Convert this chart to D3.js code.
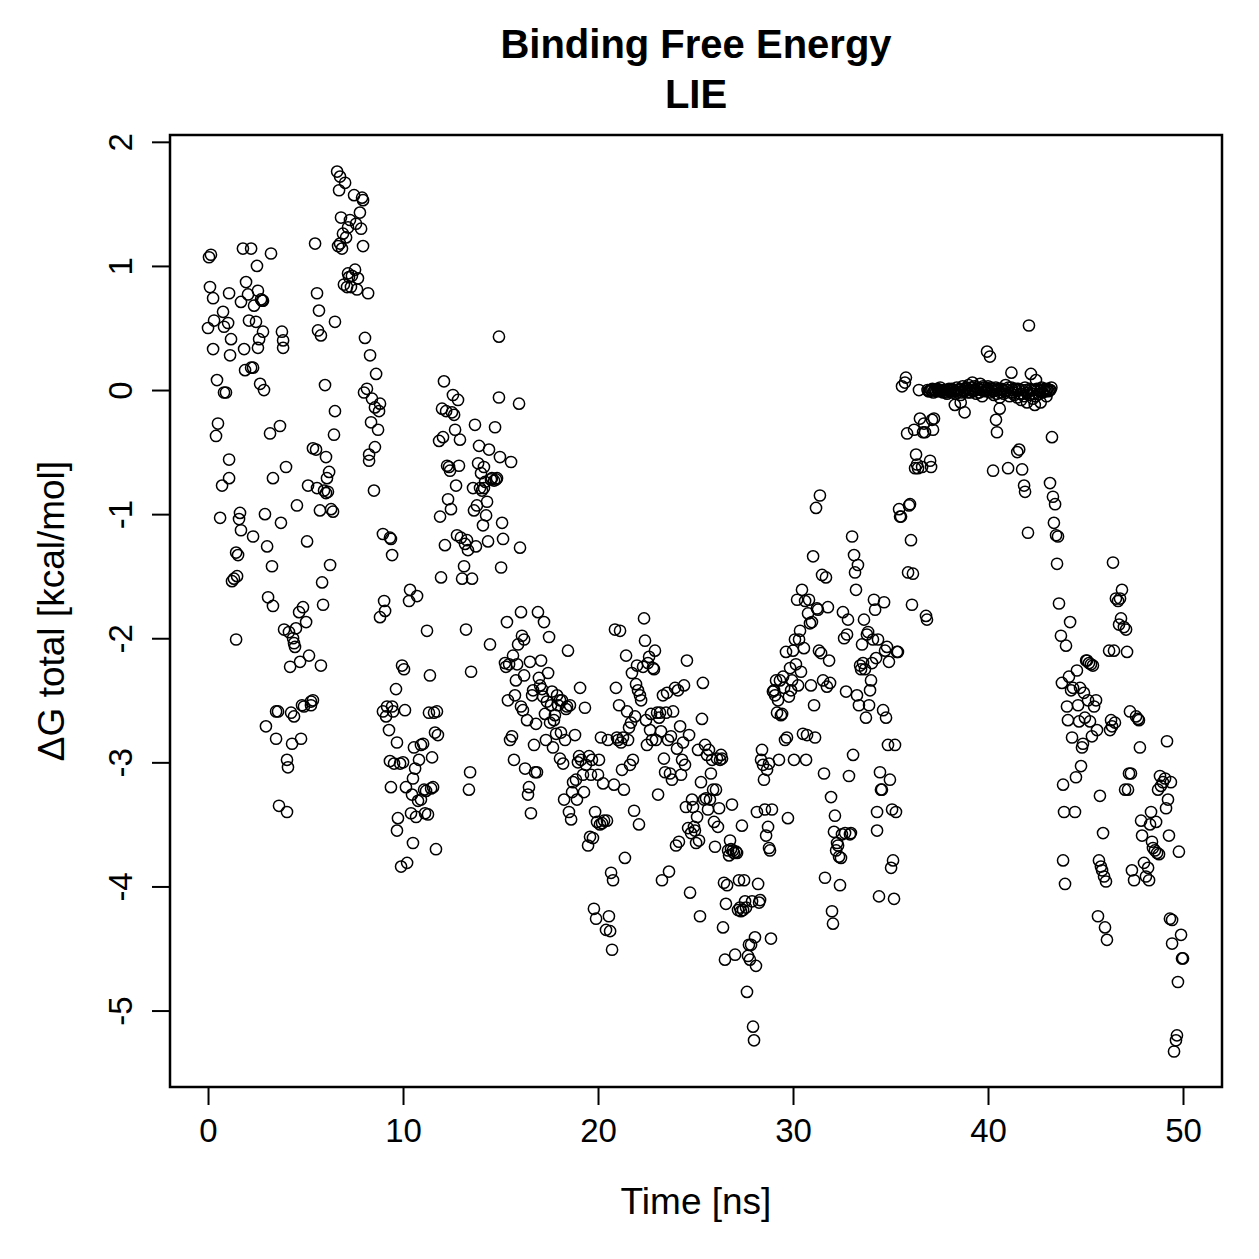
<!DOCTYPE html>
<html>
<head>
<meta charset="utf-8">
<title>Binding Free Energy - LIE</title>
<script src="https://cdn.jsdelivr.net/npm/d3@7"></script>
<style>
    body { margin: 0; background: #ffffff; }
    svg text { font-family: "Liberation Sans", Arial, Helvetica, sans-serif; fill: #000; }
</style>
</head>
<body>
<svg id="my_svg_element" width="1259" height="1259"></svg>
<script>
// ----------------------------  DATA  ----------------------------
// [time (ns), dG total (kcal/mol)]

const block_0_5 = [
    [0.05,1.07],[0.15,1.09],[0.1,0.83],[0.0,0.5],[0.26,0.74],[0.26,0.33],[0.31,0.56],[0.41,-0.37],[0.51,-0.27],[0.46,0.08],
    [0.62,-1.03],[0.72,-0.77],[0.77,0.63],[0.82,0.51],[0.82,-0.02],[0.92,-0.02],[1.03,0.54],[1.08,0.78],[1.08,-0.56],[1.08,-0.71],
    [1.18,0.41],[1.13,0.28],[1.23,-1.54],[1.33,-1.52],[1.44,-1.31],[1.54,-1.33],[1.44,-2.01],[1.49,-1.5],[1.64,-0.99],[1.59,-1.04],
    [1.69,-1.13],[1.69,0.71],[1.85,0.33],[1.9,0.16],[1.79,1.14],[2.21,1.14],[1.95,0.87],[2.05,0.77],[2.1,0.56],[2.21,0.18],
    [2.31,0.18],[2.31,-1.18],[2.36,0.68],[2.51,1.0],[2.46,0.55],[2.56,0.8],[2.62,0.41],[2.56,0.34],[2.67,0.05],[2.72,0.73],
    [2.77,0.72],[2.82,0.72],[2.87,0.0],[2.82,0.47],[2.92,-1.0],[3.03,-1.26],[3.08,-1.67],[2.97,-2.71],[3.18,-0.35],[3.23,1.1],
    [3.33,-0.71],[3.28,-1.42],[3.33,-1.74],[3.49,-2.81],[3.49,-2.59],[3.59,-2.59],[3.64,-3.35],[3.69,-0.29],[3.79,0.47],[3.85,0.4],
    [3.85,0.34],[3.74,-1.07],[3.9,-1.93],[4.0,-0.62],[4.05,-3.4],[4.05,-2.98],[4.1,-3.04],[4.15,-1.95],[4.21,-2.23],[4.26,-2.6],
    [4.31,-2.85],[4.41,-2.63],[4.41,-2.04],[4.36,-2.0],[4.46,-2.07],[4.51,-1.92],[4.56,-0.93],[4.67,-1.79],[4.72,-2.19],[4.77,-2.81],
    [4.82,-2.54],[4.87,-1.75],[4.92,-2.55]
];

const block_5_10 = [
    [5.03,-1.87],[5.08,-1.22],[5.13,-0.77],[5.18,-2.14],[5.28,-2.51],[5.38,-2.5],[5.28,-2.54],[5.38,-0.47],[5.49,1.18],[5.54,-0.48],
    [5.59,0.78],[5.59,-0.79],[5.64,0.48],[5.69,0.64],[5.74,-0.97],[5.79,-2.22],[5.79,0.44],[5.85,-1.55],[5.9,-1.73],[5.95,-0.81],
    [6.0,0.04],[6.05,-0.54],[6.05,-0.83],[6.1,-0.71],[6.15,-0.82],[6.21,-0.66],[6.26,-1.41],[6.31,-0.96],[6.41,-0.98],[6.46,-0.36],
    [6.51,-0.17],[6.51,0.55],[6.62,1.76],[6.67,1.16],[6.77,1.18],[6.72,1.61],[6.77,1.72],[6.82,1.39],[6.87,1.14],[6.92,1.26],
    [6.97,0.85],[7.03,1.67],[7.08,1.23],[7.13,0.83],[7.18,1.31],[7.18,0.94],[7.23,0.91],[7.28,1.37],[7.33,0.83],[7.38,0.92],
    [7.49,1.57],[7.54,0.97],[7.59,1.34],[7.64,0.81],[7.69,0.9],[7.79,1.43],[7.85,1.3],[7.9,1.55],[7.95,1.53],[7.95,1.16],
    [8.0,-0.02],[8.05,0.42],[8.15,0.01],[8.21,0.78],[8.26,-0.57],[8.26,-0.52],[8.31,0.28],[8.36,-0.26],[8.41,-0.07],[8.51,-0.81],
    [8.56,-0.14],[8.56,-0.46],[8.62,0.13],[8.72,-0.32],[8.77,-0.17],[8.82,-0.11],[8.82,-1.83],[8.97,-1.16],[9.03,-1.7],[9.08,-1.78],
    [9.13,-2.63],[8.97,-2.59],[9.18,-2.55],[9.28,-2.74],[9.33,-1.19],[9.38,-1.2],[9.33,-2.99],[9.44,-1.33],[9.38,-3.2],[9.44,-2.55],
    [9.49,-2.59],[9.54,-3.01],[9.64,-2.41],[9.69,-2.84],[9.69,-3.55],[9.74,-3.45],[9.85,-3.01],[9.9,-3.84],[9.95,-2.22],[10.0,-3.0],
    [10.05,-2.25]
];

const block_10_15 = [
    [10.1,-2.58],[10.15,-3.2],[10.21,-3.81],[10.31,-1.7],[10.36,-1.61],[10.41,-3.41],[10.46,-3.26],[10.51,-3.13],[10.51,-3.65],[10.56,-2.88],
    [10.62,-3.05],[10.67,-3.44],[10.72,-1.66],[10.77,-3.31],[10.82,-2.98],[10.92,-2.86],[10.92,-3.3],[11.03,-2.85],[11.08,-3.22],[11.13,-3.41],
    [11.18,-3.23],[11.23,-1.94],[11.28,-3.42],[11.33,-2.6],[11.38,-2.3],[11.44,-3.21],[11.49,-2.96],[11.54,-3.2],[11.59,-2.6],[11.64,-2.76],
    [11.69,-3.7],[11.74,-2.59],[11.79,-2.78],[11.85,-0.41],[11.9,-1.02],[11.95,-1.51],[12.0,-0.15],[12.05,-0.38],[12.1,0.07],[12.15,-1.25],
    [12.21,-0.17],[12.26,-0.61],[12.31,-0.88],[12.36,-0.62],[12.41,-0.65],[12.46,-0.96],[12.51,-0.18],[12.62,-0.2],[12.56,-0.04],[12.67,-0.32],
    [12.72,-0.77],[12.77,-1.17],[12.82,-0.08],[12.87,-0.61],[12.92,-0.4],[12.97,-1.19],[13.03,-1.52],[13.13,-1.42],[13.23,-1.93],[13.18,-1.24],
    [13.28,-1.21],[13.33,-1.29],[13.38,-3.22],[13.44,-3.08],[13.49,-2.27],[13.54,-1.52],[13.59,-0.79],[13.64,-0.97],[13.69,-0.28],[13.74,-1.26],
    [13.79,-0.93],[13.85,-0.59],[13.9,-0.45],[13.95,-0.79],[14.0,-0.67],[14.05,-0.81],[14.15,-0.79],[14.21,-0.74],[14.1,-1.09],[14.15,-0.62],
    [14.26,-1.01],[14.31,-0.9],[14.36,-1.22],[14.41,-0.48],[14.46,-2.05],[14.51,-0.72],[14.56,-0.71],[14.67,-0.73],[14.77,-0.72],[14.72,-0.3],
    [14.82,-0.71]
];

const block_15_20 = [
    [14.92,0.43],[14.92,-0.06],[14.97,-0.54],[15.03,-1.43],[15.08,-1.07],[15.13,-1.2],[15.23,-2.2],[15.28,-2.23],[15.44,-2.21],[15.33,-1.87],
    [15.38,-2.5],[15.49,-2.82],[15.54,-0.58],[15.59,-2.79],[15.64,-2.14],[15.69,-2.98],[15.74,-2.46],[15.79,-2.34],[15.85,-2.21],[15.9,-2.05],
    [15.95,-0.11],[16.0,-1.27],[16.05,-1.79],[16.05,-2.55],[16.1,-1.98],[16.21,-2.01],[16.15,-2.58],[16.21,-2.3],[16.26,-3.05],[16.36,-2.66],
    [16.41,-3.26],[16.46,-3.2],[16.56,-3.41],[16.51,-2.19],[16.62,-2.46],[16.67,-2.42],[16.72,-2.86],[16.77,-3.08],[16.82,-2.69],[16.87,-3.08],
    [16.92,-1.79],[16.97,-2.32],[17.03,-2.38],[17.08,-2.18],[17.13,-2.41],[17.18,-2.47],[17.23,-1.87],[17.28,-2.61],[17.33,-2.82],[17.38,-2.51],
    [17.44,-2.28],[17.49,-1.99],[17.54,-2.68],[17.59,-2.54],[17.64,-2.43],[17.69,-2.88],[17.74,-2.66],[17.79,-2.62],[17.85,-2.77],[17.9,-2.46],
    [17.95,-2.54],[18.05,-2.5],[18.05,-2.97],[18.1,-2.76],[18.15,-2.5],[18.21,-3.01],[18.26,-3.3],[18.31,-2.82],[18.36,-2.57],[18.41,-2.55],
    [18.46,-2.1],[18.51,-3.4],[18.62,-3.46],[18.56,-2.54],[18.67,-3.24],[18.72,-3.16],[18.82,-2.78],[18.87,-3.14],[18.92,-3.3],[18.97,-3.0],
    [19.03,-2.95],[19.08,-2.4],[19.13,-2.98],[19.23,-3.1],[19.28,-3.24],[19.33,-2.56],[19.38,-3.02],[19.49,-3.67],[19.54,-2.95],[19.59,-3.6],
    [19.64,-3.1],[19.69,-2.98],[19.74,-3.61],[19.79,-4.18],[19.85,-3.4],[19.95,-3.48],[19.9,-4.26],[20.0,-3.1]
];

const block_20_25 = [
    [20.05,-2.98],[20.1,-3.5],[20.15,-2.8],[20.21,-3.49],[20.26,-3.17],[20.31,-3.47],[20.41,-4.35],[20.46,-3.47],[20.51,-2.82],[20.56,-4.24],
    [20.62,-4.36],[20.67,-3.89],[20.77,-3.95],[20.72,-4.51],[20.82,-3.18],[20.87,-1.93],[20.92,-2.4],[20.97,-2.8],[21.03,-2.82],[21.08,-2.54],
    [21.13,-1.94],[21.18,-2.84],[21.28,-2.8],[21.23,-3.06],[21.33,-3.22],[21.38,-3.77],[21.44,-2.14],[21.49,-2.59],[21.54,-2.82],[21.64,-3.02],
    [21.59,-2.72],[21.69,-2.68],[21.74,-2.28],[21.79,-2.98],[21.85,-3.39],[21.9,-2.63],[22.0,-2.22],[21.95,-2.37],[22.05,-2.42],[22.1,-3.5],
    [22.15,-2.46],[22.21,-2.5],[22.31,-2.23],[22.36,-1.84],[22.41,-2.02],[22.46,-2.66],[22.51,-2.86],[22.56,-2.2],[22.62,-2.15],[22.67,-2.74],
    [22.77,-2.82],[22.72,-2.61],[22.82,-2.24],[22.87,-2.25],[22.92,-2.1],[22.97,-2.82],[23.03,-2.6],[23.13,-2.64],[23.08,-3.26],[23.18,-2.6],
    [23.23,-2.75],[23.28,-3.95],[23.33,-2.46],[23.38,-2.97],[23.44,-3.08],[23.49,-2.6],[23.54,-2.44],[23.59,-2.82],[23.64,-3.88],[23.69,-3.09],
    [23.74,-2.79],[23.79,-3.14],[23.85,-2.59],[23.95,-2.4],[24.0,-3.67],[24.05,-2.89],[24.1,-2.42],[24.15,-3.64],[24.21,-2.71],[24.26,-3.1],
    [24.31,-2.98],[24.36,-2.84],[24.41,-2.38],[24.46,-3.02],[24.51,-3.36],[24.56,-2.18],[24.62,-3.53],[24.67,-2.78],[24.72,-4.05],[24.77,-3.57],
    [24.82,-3.3],[24.87,-3.36],[24.92,-3.52]
];

const block_25_30 = [
    [24.97,-3.55],[25.03,-3.65],[25.08,-3.44],[25.13,-2.9],[25.18,-3.63],[25.23,-4.24],[25.28,-3.16],[25.33,-2.65],[25.38,-2.36],[25.44,-3.3],
    [25.54,-3.29],[25.49,-2.86],[25.59,-2.94],[25.64,-3.38],[25.69,-2.9],[25.74,-3.3],[25.79,-3.09],[25.85,-2.98],[25.9,-3.22],[25.95,-3.48],
    [26.0,-3.68],[26.05,-3.22],[26.1,-2.97],[26.15,-3.52],[26.21,-3.37],[26.26,-2.98],[26.31,-2.94],[26.36,-2.97],[26.41,-4.33],[26.46,-3.97],
    [26.51,-4.59],[26.56,-4.14],[26.62,-3.99],[26.67,-3.71],[26.72,-3.75],[26.77,-3.63],[26.82,-3.7],[26.87,-3.34],[26.92,-3.71],[26.97,-3.73],
    [27.03,-4.55],[27.08,-3.72],[27.13,-3.73],[27.18,-4.19],[27.23,-3.95],[27.28,-4.17],[27.33,-4.2],[27.44,-4.19],[27.38,-3.51],[27.49,-3.95],
    [27.54,-4.12],[27.59,-4.17],[27.64,-4.85],[27.69,-4.56],[27.74,-4.47],[27.85,-4.47],[27.79,-4.59],[27.9,-4.12],[27.95,-5.13],[28.0,-5.24],
    [28.05,-4.41],[28.1,-4.64],[28.15,-3.4],[28.21,-3.98],[28.26,-4.13],[28.31,-4.11],[28.36,-2.98],[28.41,-2.9],[28.46,-3.02],[28.51,-3.14],
    [28.56,-3.38],[28.62,-3.59],[28.67,-3.06],[28.77,-3.01],[28.72,-3.52],[28.77,-3.69],[28.82,-3.71],[28.87,-4.42],[28.92,-3.38],[28.97,-2.43],
    [29.03,-2.42],[29.08,-2.46],[29.13,-2.34],[29.18,-2.6],[29.23,-2.5],[29.28,-2.98],[29.33,-2.34],[29.38,-2.62],[29.44,-2.61],[29.49,-2.31],
    [29.54,-2.4],[29.59,-2.82],[29.64,-2.11],[29.69,-2.8],[29.74,-3.45],[29.79,-2.47],[29.85,-2.24]
];

const block_30_35 = [
    [29.9,-2.42],[29.95,-2.34],[30.0,-2.1],[30.05,-2.98],[30.1,-2.01],[30.15,-2.21],[30.21,-1.69],[30.26,-2.38],[30.31,-2.01],[30.36,-1.94],
    [30.41,-2.27],[30.46,-1.61],[30.51,-2.77],[30.56,-2.08],[30.62,-1.7],[30.67,-2.98],[30.72,-2.78],[30.77,-1.8],[30.82,-1.69],[30.87,-1.88],
    [30.92,-2.38],[30.97,-1.87],[31.03,-1.34],[31.08,-2.54],[31.13,-2.8],[31.18,-0.95],[31.23,-1.76],[31.28,-1.77],[31.33,-2.1],[31.44,-2.12],
    [31.38,-0.85],[31.49,-1.49],[31.54,-2.34],[31.59,-3.09],[31.64,-3.93],[31.69,-1.51],[31.74,-2.39],[31.79,-1.75],[31.85,-2.18],[31.9,-2.36],
    [31.95,-3.28],[32.0,-4.2],[32.05,-4.3],[32.1,-3.56],[32.15,-3.43],[32.21,-3.71],[32.26,-3.65],[32.31,-3.67],[32.36,-3.76],[32.41,-3.99],
    [32.46,-3.77],[32.51,-3.58],[32.56,-1.79],[32.62,-2.0],[32.67,-3.57],[32.72,-2.43],[32.77,-1.97],[32.82,-1.85],[32.87,-3.11],[32.92,-3.58],
    [32.97,-3.57],[33.03,-1.18],[33.08,-2.94],[33.13,-1.33],[33.18,-1.47],[33.23,-1.61],[33.33,-1.41],[33.28,-2.46],[33.38,-2.54],[33.44,-2.22],
    [33.49,-2.25],[33.59,-2.2],[33.69,-2.25],[33.54,-2.05],[33.64,-1.85],[33.74,-2.64],[33.79,-1.97],[33.85,-1.95],[33.9,-2.54],[33.95,-2.42],
    [34.0,-2.34],[34.05,-2.2],[34.1,-2.01],[34.15,-1.69],[34.21,-1.77],[34.26,-2.16],[34.31,-3.55],[34.31,-3.4],[34.36,-2.01],[34.41,-4.08],
    [34.46,-3.08],[34.51,-3.22],[34.56,-3.22],[34.62,-2.58],[34.67,-1.71],[34.72,-2.1],[34.77,-2.64],[34.82,-2.07],[34.87,-2.86],[34.92,-2.19]
];

const block_35_37 = [
    [34.97,-3.14],[35.03,-3.85],[35.08,-3.38],[35.13,-3.79],[35.18,-4.1],[35.23,-2.86],[35.28,-3.4],[35.33,-2.11],[35.38,-2.11],[35.44,-0.96],
    [35.49,-1.02],[35.54,-1.02],[35.59,0.03],[35.74,0.06],[35.79,0.1],[35.85,-0.35],[35.9,-1.47],[35.95,-0.93],[36.0,-0.92],[36.05,-1.21],
    [36.1,-1.73],[36.15,-1.48],[36.21,-0.32],[36.26,-0.63],[36.31,-0.52],[36.36,-0.6],[36.41,-0.63],[36.46,0.0],[36.51,-0.23],[36.62,-0.62],
    [36.67,-0.34],[36.72,-0.27],[36.77,-0.34],[36.82,-1.82],[36.87,-1.85],[37.03,-0.57],[37.08,-0.62],[37.13,-0.24],[37.18,-0.32],[37.23,-0.23]
];

// the flat stretch near zero, 37 - 43 ns
const block_plateau = [
    [36.9,0.0],[37.0,-0.01],[37.1,0.0],[37.2,-0.02],[37.3,0.0],[37.4,0.01],[37.5,-0.01],[37.6,0.0],[37.7,-0.02],[37.8,0.0],
    [37.9,-0.03],[38.0,0.01],[38.1,0.0],[38.2,-0.02],[38.3,-0.01],[38.4,0.02],[38.5,0.0],[38.6,-0.04],[38.7,0.03],[38.8,-0.01],
    [38.9,0.02],[39.0,0.04],[39.1,-0.02],[39.2,0.0],[39.3,0.03],[39.4,-0.03],[39.5,0.01],[39.6,0.05],[39.7,-0.05],[39.8,0.02],
    [39.9,0.0],[40.0,0.03],[40.1,-0.02],[40.2,0.01],[40.3,-0.04],[40.4,0.02],[40.5,0.0],[40.6,-0.06],[40.7,0.01],[40.8,-0.03],
    [40.9,0.04],[41.0,0.0],[41.1,-0.05],[41.2,0.02],[41.3,-0.02],[41.4,0.01],[41.5,-0.06],[41.6,0.0],[41.7,-0.08],[41.8,-0.03],
    [41.9,0.02],[42.0,-0.1],[42.1,-0.04],[42.2,0.0],[42.3,-0.07],[42.4,-0.12],[42.5,0.01],[42.6,-0.03],[42.7,0.0],[42.8,-0.02],
    [42.9,0.01],[43.0,0.0],[43.1,-0.01],[43.2,0.0],[43.25,0.02],
    [36.95,-0.01],[37.05,0.0],[37.15,0.01],[37.25,0.0],[37.35,-0.01],[37.45,0.0],[37.55,0.02],[37.65,-0.01],[37.75,0.0],[37.85,-0.02],
    [37.95,0.0],[38.05,-0.01],[38.15,0.01],[38.25,0.0],[38.35,-0.03],[38.45,0.0],[38.55,0.01],[38.65,-0.02],[38.75,0.0],[38.85,0.01],
    [38.95,-0.02],[39.05,0.0],[39.15,0.02],[39.25,-0.01],[39.35,0.0],[39.45,0.02],[39.55,-0.02],[39.65,0.0],[39.75,0.03],[39.85,-0.01],
    [39.95,0.01],[40.05,0.0],[40.15,0.02],[40.25,-0.01],[40.35,0.0],[40.45,-0.03],[40.55,0.01],[40.65,-0.02],[40.75,0.0],[40.85,-0.01],
    [40.95,0.0],[41.05,0.02],[41.15,-0.02],[41.25,0.0],[41.35,-0.04],[41.45,0.0],[41.55,0.01],[41.65,-0.03],[41.75,0.0],[41.85,-0.05],
    [41.95,0.0],[42.05,-0.02],[42.15,0.01],[42.25,-0.03],[42.35,0.0],[42.45,-0.05],[42.55,0.0],[42.65,-0.01],[42.75,0.02],[42.85,0.0],
    [42.95,-0.01],[43.05,0.01],[43.15,0.0],
    [38.3,-0.12],[38.8,-0.18],[38.6,-0.1],[39.2,0.06],[39.95,0.31],[40.1,0.27],[40.26,-0.65],[40.41,-0.24],[40.46,-0.34],[40.6,-0.15],
    [41.03,-0.63],[41.2,0.14],[41.5,-0.5],[41.6,-0.48],[41.75,-0.64],[41.85,-0.77],[41.9,-0.82],[42.05,-1.15],[42.1,0.52],[42.2,0.13],
    [42.46,0.08],[42.7,-0.1],[43.0,-0.05]
];

const block_43_45 = [
    [43.18,-0.75],[43.28,-0.38],[43.33,-0.86],[43.44,-0.92],[43.38,-1.07],[43.49,-1.17],[43.59,-1.18],[43.54,-1.4],[43.64,-1.72],[43.74,-1.98],
    [43.79,-2.36],[43.85,-3.18],[43.9,-3.4],[43.85,-3.79],[43.95,-3.98],[44.0,-2.06],[44.05,-2.55],[44.1,-2.66],[44.15,-2.31],[44.21,-1.87],
    [44.26,-2.42],[44.31,-2.8],[44.36,-2.4],[44.46,-3.4],[44.51,-3.12],[44.56,-2.26],[44.62,-2.54],[44.67,-2.67],[44.72,-2.4],[44.77,-3.03],
    [44.82,-2.88],[44.87,-2.85],[44.92,-2.44],[44.97,-2.64]
];

const block_45_50 = [
    [45.03,-2.18],[45.08,-2.18],[45.18,-2.2],[45.28,-2.21],[45.38,-2.22],[45.13,-2.5],[45.23,-2.67],[45.33,-2.79],[45.44,-2.55],[45.54,-2.5],
    [45.59,-2.74],[45.64,-4.24],[45.69,-3.79],[45.74,-3.27],[45.79,-3.84],[45.85,-3.87],[45.9,-3.57],[45.95,-3.92],[46.05,-3.96],[46.0,-4.33],
    [46.1,-4.43],[46.21,-2.1],[46.26,-2.74],[46.36,-2.71],[46.31,-2.66],[46.41,-1.39],[46.46,-2.1],[46.51,-2.68],[46.56,-1.68],[46.67,-1.7],
    [46.72,-1.89],[46.77,-1.68],[46.82,-1.84],[46.87,-1.61],[46.97,-1.91],[47.08,-1.93],[47.13,-2.11],[47.03,-3.22],[47.18,-3.22],[47.23,-3.09],
    [47.33,-3.09],[47.28,-2.59],[47.38,-3.87],[47.49,-3.95],[47.59,-2.63],[47.69,-2.65],[47.74,-2.66],[47.79,-2.88],[47.85,-3.47],[47.9,-3.59],
    [48.0,-3.81],[48.1,-3.92],[48.21,-3.85],[48.26,-3.95],[48.31,-3.5],[48.36,-3.4],[48.41,-3.64],[48.46,-3.69],[48.56,-3.71],[48.67,-3.73],
    [48.77,-3.74],[48.62,-3.48],[48.72,-3.22],[48.82,-3.11],[48.87,-3.19],[48.97,-3.16],[49.08,-3.13],[49.13,-3.37],[49.18,-2.83],[49.23,-3.3],
    [49.28,-3.59],[49.38,-3.16],[49.33,-4.26],[49.44,-4.27],[49.44,-4.46],[49.54,-5.33],[49.64,-5.24],[49.69,-5.2],[49.74,-4.77],[49.79,-3.72],
    [49.9,-4.39],[50.0,-4.58],[49.95,-4.58]
];

const x_ticks = [0, 10, 20, 30, 40, 50];
const y_ticks = [2, 1, 0, -1, -2, -3, -4, -5];

const title_lines = ["Binding Free Energy", "LIE"];
const x_label = "Time [ns]";
const y_label = "\u0394G total [kcal/mol]";

// ----------------------------  PLOT  ----------------------------
const all_points = [].concat(block_0_5, block_5_10, block_10_15, block_15_20, block_20_25,
                             block_25_30, block_30_35, block_35_37, block_plateau, block_43_45, block_45_50);

const box = {left: 170, right: 1222, top: 135, bottom: 1087};

// R style: data range padded by 4% on each side
const x_scale = d3.scaleLinear().domain([-1.95, 52.0]).range([box.left, box.right]);
const y_scale = d3.scaleLinear().domain([-5.616, 2.055]).range([box.bottom, box.top]);

const svg = d3.select("#my_svg_element");

// points: open circles (pch = 1)
svg.append("g")
    .selectAll("circle")
    .data(all_points)
    .join("circle")
    .attr("cx", d => x_scale(d[0]))
    .attr("cy", d => y_scale(d[1]))
    .attr("r", 5.6)
    .attr("fill", "none")
    .attr("stroke", "#000")
    .attr("stroke-width", 1.5);

// X axis
const x_axis = svg.append("g")
    .attr("transform", `translate(0,${box.bottom})`)
    .call(d3.axisBottom(x_scale).tickValues(x_ticks).tickSize(18).tickPadding(14).tickFormat(d3.format("d")));
x_axis.select(".domain").remove();
x_axis.selectAll("line").attr("stroke-width", 2);
x_axis.selectAll("text").attr("font-size", 33).attr("font-family", null);

// Y axis, labels turned like R's las = 0
const y_axis = svg.append("g")
    .attr("transform", `translate(${box.left},0)`)
    .call(d3.axisLeft(y_scale).tickValues(y_ticks).tickSize(18).tickFormat(d => String(d)));
y_axis.select(".domain").remove();
y_axis.selectAll("line").attr("stroke-width", 2);
y_axis.selectAll("text")
    .attr("font-size", 33)
    .attr("font-family", null)
    .attr("x", null).attr("dy", null)
    .attr("text-anchor", "middle")
    .attr("dominant-baseline", "auto")
    .attr("transform", "translate(-38,0) rotate(-90)")
    .attr("y", 0);

// plot box
svg.append("rect")
    .attr("x", box.left).attr("y", box.top)
    .attr("width", box.right - box.left).attr("height", box.bottom - box.top)
    .attr("fill", "none").attr("stroke", "#000").attr("stroke-width", 2.5);

// titles
const mid_x = (box.left + box.right) / 2;
svg.selectAll(".title")
    .data(title_lines)
    .join("text")
    .attr("class", "title")
    .attr("x", mid_x)
    .attr("y", (d, i) => 58 + i * 50)
    .attr("text-anchor", "middle")
    .attr("font-size", 40)
    .attr("font-weight", "bold")
    .text(d => d);

svg.append("text")
    .attr("x", mid_x).attr("y", 1214)
    .attr("text-anchor", "middle")
    .attr("font-size", 37)
    .text(x_label);

svg.append("text")
    .attr("transform", `translate(64,${(box.top + box.bottom) / 2}) rotate(-90)`)
    .attr("text-anchor", "middle")
    .attr("font-size", 37)
    .text(y_label);
</script>
</body>
</html>
